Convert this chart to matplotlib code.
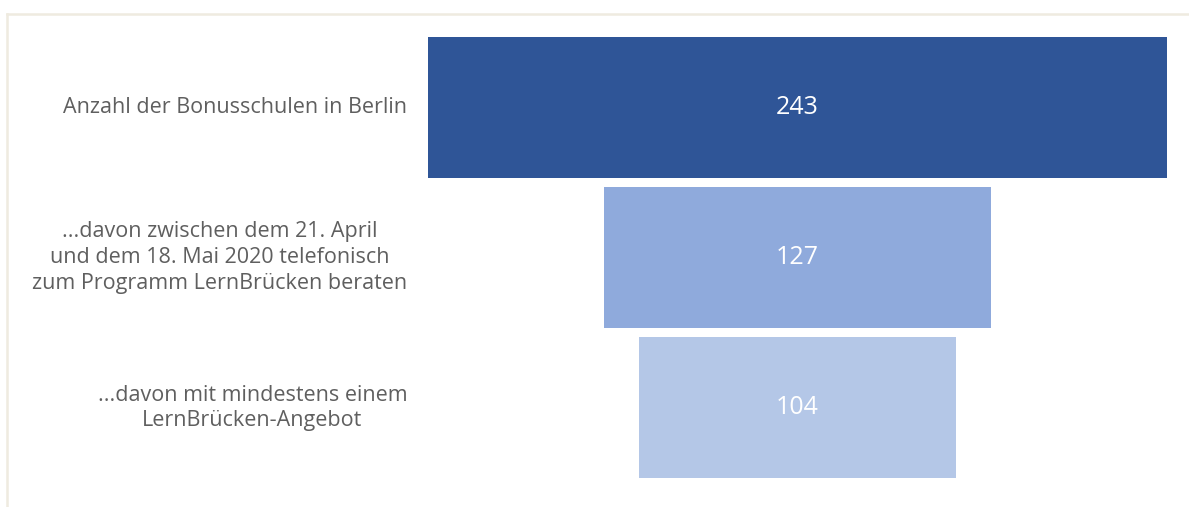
import matplotlib.pyplot as plt
from matplotlib.lines import Line2D

# Daten des Trichters
labels = [
    'Anzahl der Bonusschulen in Berlin',
    '...davon zwischen dem 21. April\nund dem 18. Mai 2020 telefonisch\nzum Programm LernBrücken beraten',
    '...davon mit mindestens einem\nLernBrücken-Angebot',
]
values = [243, 127, 104]
colors = ['#2F5597', '#8FAADC', '#B4C7E7']

plt.rcParams['font.family'] = ['Open Sans', 'DejaVu Sans']

fig = plt.figure(figsize=(11.89, 5.07), dpi=100)
ax = fig.add_axes([428 / 1189, 1 - 483 / 507, 739 / 1189, 450.5 / 507])

ypos = list(range(len(values)))
lefts = [-v / 2 for v in values]
ax.barh(ypos, values, left=lefts, height=0.94, color=colors)

ax.set_xlim(-values[0] / 2, values[0] / 2)
ax.set_ylim(len(values) - 0.5, -0.5)
ax.axis('off')

for y, v, lab in zip(ypos, values, labels):
    ax.text(0, y, str(v), ha='center', va='center', color='white', fontsize=18)
    ax.text(-0.028, y, lab, transform=ax.get_yaxis_transform(), ha='right', va='center',
            multialignment='center', color='#5F5F5F', fontsize=15.5, linespacing=1.3)

# heller Rahmen oben und links
border = '#EFEBE0'
fig.add_artist(Line2D([7 / 1189, 1], [1 - 14 / 507, 1 - 14 / 507], color=border, lw=1.8))
fig.add_artist(Line2D([7 / 1189, 7 / 1189], [0, 1 - 14 / 507], color=border, lw=1.8))

fig.savefig('out.png', dpi=100)
